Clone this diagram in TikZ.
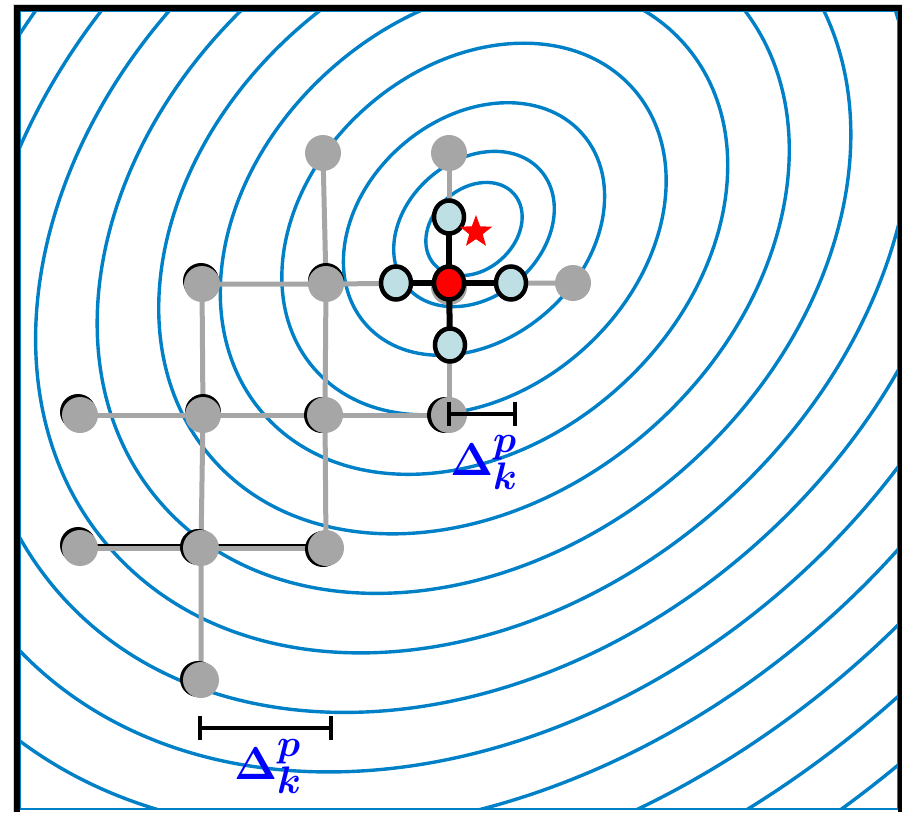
\documentclass[tikz,border=0pt]{standalone}
\usepackage{bm}
\usetikzlibrary{shapes.geometric}
\definecolor{cblue}{RGB}{0,128,198}
\definecolor{gnode}{RGB}{166,166,166}
\definecolor{lblue}{RGB}{190,224,228}
\pgfdeclarelayer{bg}\pgfdeclarelayer{gnodes}\pgfdeclarelayer{cross}
\pgfsetlayers{bg,gnodes,cross,main}
\begin{document}
\begin{tikzpicture}[x=1pt,y=-1pt,
  gn/.style={circle, fill=gnode, minimum size=36pt, inner sep=0pt},
  sh/.style={circle, fill=black, minimum size=36pt, inner sep=0pt},
  ln/.style={ellipse, fill=lblue, draw=black, line width=4.5pt, minimum width=30pt, minimum height=33pt, inner sep=0pt},
  rn/.style={ln, fill=red},
  gedge/.style={draw=gnode, line width=5pt},
  bedge/.style={draw=black, line width=6pt},
  contour/.style={draw=cblue, line width=3.4pt},
  marker/.style={draw=black, line width=4pt},
  lab/.style={text=blue, font=\Huge, scale=1.85, inner sep=0pt}
]
\useasboundingbox (0,0) rectangle (902,812);
% current-point nodes (main layer)
\node[rn] (r) at (449,283) {};
\node[ln] (t) at (449,217) {};
\node[ln] (l) at (396,283) {};
\node[ln] (ri) at (511,283) {};
\node[ln] (b) at (450,345) {};
\node[star, star points=5, star point ratio=2.4, fill=red, minimum size=34pt, inner sep=0pt] (star) at (476,232) {};
% grey poll points with their shadows
\begin{pgfonlayer}{gnodes}
\node[sh] (s3) at (201,281) {};
\node[sh] (s4) at (326,281) {};
\node[sh] (s7) at (78,412) {};
\node[sh] (s8) at (203,412) {};
\node[sh] (s9) at (322,415) {};
\node[sh] (s10) at (445,415) {};
\node[sh] (s11) at (78,545) {};
\node[sh] (s12) at (198,547) {};
\node[sh] (s13) at (323,549) {};
\node[sh] (s14) at (198,679) {};
\node[gn] (g1) at (323,153) {};
\node[gn] (g2) at (449,153) {};
\node[gn] (g3) at (202,284) {};
\node[gn] (g4) at (326,284) {};
\node[gn] (g5) at (573,283) {};
\node[gn] (g6) at (449,287) {};
\node[gn] (g7) at (80,415) {};
\node[gn] (g8) at (203,415) {};
\node[gn] (g9) at (325,415) {};
\node[gn] (g10) at (449,415) {};
\node[gn] (g11) at (80,548) {};
\node[gn] (g12) at (201,548) {};
\node[gn] (g13) at (326,548) {};
\node[gn] (g14) at (201,680) {};
\end{pgfonlayer}
% background: contours and grey mesh
\begin{pgfonlayer}{bg}
\fill[white] (0,0) rectangle (902,812);
\begin{scope}
\clip (20,11) rectangle (898,809);
\foreach \s in {45,75,122,179.5,237,294.5,352,409.5,467,524.5,582,639.5,697,754.5,812,869.5}{
  \pgfmathsetmacro\ra{1.1822*\s}
  \pgfmathsetmacro\rb{0.9055*\s}
  \draw[contour, rotate around={41.3:(474,229)}] (474,229) ellipse [x radius=\ra pt, y radius=\rb pt];
}
\end{scope}
\draw[black, line width=4pt] ([yshift=2pt]g11.center) -- ([yshift=2pt]g13.center);
\draw[gedge] (g1.center) -- (g4.center);
\draw[gedge] (g2.center) -- (r.center);
\draw[gedge] (g3.center) -- (g4.center) -- (r.center) -- (g5.center);
\draw[gedge] (g3.center) -- (g8.center) -- (g12.center) -- (g14.center);
\draw[gedge] (g4.center) -- (g9.center) -- (g13.center);
\draw[gedge] (r.center) -- (g10.center);
\draw[gedge] (g7.center) -- (g8.center) -- (g9.center) -- (g10.center);
\draw[gedge] (g11.center) -- (g12.center) -- (g13.center);
\end{pgfonlayer}
% black poll cross
\begin{pgfonlayer}{cross}
\draw[bedge] (r.center) -- (t.center);
\draw[bedge] (r.center) -- (l.center);
\draw[bedge] (r.center) -- (ri.center);
\draw[bedge] (r.center) -- (b.center);
\end{pgfonlayer}
% step-size markers
\coordinate (m1a) at (449,414);
\coordinate (m1b) at (515,414);
\draw[marker] (m1a) -- (m1b);
\draw[marker] ([yshift=12pt]m1a) -- ([yshift=-12pt]m1a);
\draw[marker] ([yshift=12pt]m1b) -- ([yshift=-12pt]m1b);
\coordinate (m2a) at (200,728);
\coordinate (m2b) at (331,728);
\draw[marker] (m2a) -- (m2b);
\draw[marker] ([yshift=12pt]m2a) -- ([yshift=-12pt]m2a);
\draw[marker] ([yshift=12pt]m2b) -- ([yshift=-12pt]m2b);
\node[lab] (L1) at (484,462) {$\bm{\Delta}_{\bm{k}}^{\bm{p}}$};
\node[lab] (L2) at (268,766) {$\bm{\Delta}_{\bm{k}}^{\bm{p}}$};
% frame
\draw[cblue, line width=1.5pt] (20.5,11.5) rectangle (897.5,809);
\draw[gray!35, line width=1pt] (13,812) -- (13,4) -- (902,4);
\draw[black, line width=6pt] (17,812) -- (17,8) -- (902,8);
\draw[black, line width=4pt] (900,5) -- (900,812);
\end{tikzpicture}
\end{document}
